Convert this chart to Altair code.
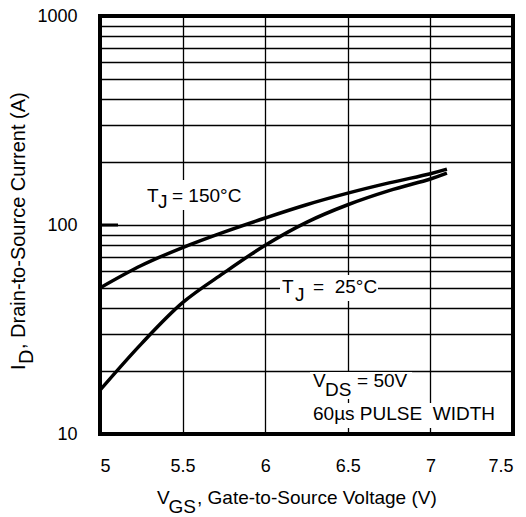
import altair as alt
import pandas as pd

# ---- data ----
vgs = [5.0, 5.25, 5.5, 5.75, 6.0, 6.25, 6.5, 6.75, 7.0, 7.1]
id_150 = [50.0, 64.0, 78.0, 92.5, 108.0, 125.0, 142.0, 159.0, 176.0, 185.0]
id_25 = [16.2, 27.0, 42.5, 59.0, 80.0, 103.0, 125.0, 146.0, 166.0, 177.0]

x_ticks = [5, 5.5, 6, 6.5, 7, 7.5]
y_grid = [10, 20, 30, 40, 50, 60, 70, 80, 90,
          100, 200, 300, 400, 500, 600, 700, 800, 900, 1000]
y_labels = [10, 100, 1000]

# annotation texts (position in data units: V, A)
ann_text = ["T", "J", "= 150°C",
            "T", "J", "=\u00a0 25°C",
            "V", "DS", "= 50V",
            "60µs PULSE\u00a0 WIDTH"]
ann_x = [5.2845, 5.3511, 5.4358,
         6.1017, 6.1804, 6.2893,
         6.2893, 6.3620, 6.5557,
         6.2893]
ann_y = [128.8, 120.6, 128.8,
         47.3, 43.3, 47.3,
         16.8, 15.2, 16.8,
         11.67]

# white boxes behind annotations
box_x = [5.272, 6.0896, 6.271, 6.271]
box_x2 = [5.878, 6.6828, 6.889, 7.433]
box_y = [164.2, 57.7, 19.8, 14.07]
box_y2 = [118.0, 43.3, 14.7, 10.68]

FONT = "Liberation Sans"

curves = pd.DataFrame({
    "vgs": vgs * 2,
    "id": id_150 + id_25,
    "curve": ["150"] * len(vgs) + ["25"] * len(vgs),
})
ann = pd.DataFrame({"x": ann_x, "y": ann_y, "t": ann_text})
boxes = pd.DataFrame({"x": box_x, "x2": box_x2, "y": box_y, "y2": box_y2})
frame = pd.DataFrame({"x": [x_ticks[0]], "x2": [x_ticks[-1]],
                      "y": [y_labels[0]], "y2": [y_labels[-1]]})

xscale = alt.Scale(domain=[5, 7.5], nice=False, zero=False)
yscale = alt.Scale(type="log", domain=[10, 1000], nice=False)

label_expr = "(datum.value == 10 || datum.value == 100 || datum.value == 1000) ? datum.label : ''"

xaxis = alt.Axis(values=x_ticks, format="~g", title=None, grid=True,
                 gridColor="black", gridWidth=1.3, gridOpacity=1,
                 ticks=False, domain=False, labelPadding=23,
                 labelFont=FONT, labelFontSize=18, labelColor="black")
yaxis = alt.Axis(values=y_grid, format="d", labelExpr=label_expr, title=None, grid=True,
                 gridColor="black", gridWidth=1.3, gridOpacity=1,
                 ticks=False, domain=False, labelPadding=23,
                 labelFont=FONT, labelFontSize=18, labelColor="black")

lines = alt.Chart(curves).mark_line(color="black", strokeWidth=3.5,
                                    interpolate="catmull-rom").encode(
    x=alt.X("vgs:Q", scale=xscale, axis=xaxis),
    y=alt.Y("id:Q", scale=yscale, axis=yaxis),
    detail="curve:N",
)

rects = alt.Chart(boxes).mark_rect(color="white").encode(
    x=alt.X("x:Q", scale=xscale), x2="x2:Q",
    y=alt.Y("y:Q", scale=yscale), y2="y2:Q",
)

border = alt.Chart(frame).mark_rect(filled=False, stroke="black", strokeWidth=4).encode(
    x=alt.X("x:Q", scale=xscale), x2="x2:Q",
    y=alt.Y("y:Q", scale=yscale), y2="y2:Q",
)

texts = alt.Chart(ann).mark_text(align="left", baseline="alphabetic",
                                 font=FONT, fontSize=19, color="black").encode(
    x=alt.X("x:Q", scale=xscale),
    y=alt.Y("y:Q", scale=yscale),
    text="t:N",
)

tick100 = alt.Chart(pd.DataFrame({"x": [5.0], "x2": [5.109], "y": [100]})).mark_rule(
    color="black", strokeWidth=3).encode(
    x=alt.X("x:Q", scale=xscale), x2="x2:Q", y=alt.Y("y:Q", scale=yscale))

# axis titles with subscripts
xt = pd.DataFrame({"t": ["V", "GS", ", Gate-to-Source Voltage (V)"],
                   "px": [57, 68.5, 97], "py": [488, 497, 488]})
xtitle = alt.Chart(xt).mark_text(align="left", baseline="alphabetic", font=FONT,
                                 fontSize=19, color="black").encode(
    x=alt.X("px:Q", scale=None), y=alt.Y("py:Q", scale=None), text="t:N")

yt = pd.DataFrame({"t": ["I", "D", ", Drain-to-Source Current (A)"],
                   "px": [-75, -67, -75], "py": [354, 348, 333]})
ytitle = alt.Chart(yt).mark_text(align="left", baseline="alphabetic", font=FONT,
                                 fontSize=20, angle=270, color="black").encode(
    x=alt.X("px:Q", scale=None), y=alt.Y("py:Q", scale=None), text="t:N")

chart = alt.layer(rects, lines, texts, tick100, border, xtitle, ytitle).properties(
    width=413, height=418,
    padding={"left": 92, "top": 8, "right": 5, "bottom": 83},
    autosize="none",
    background="white",
).configure_view(stroke=None)

chart.save("out.html", embed_options={"renderer": "svg", "actions": False})
